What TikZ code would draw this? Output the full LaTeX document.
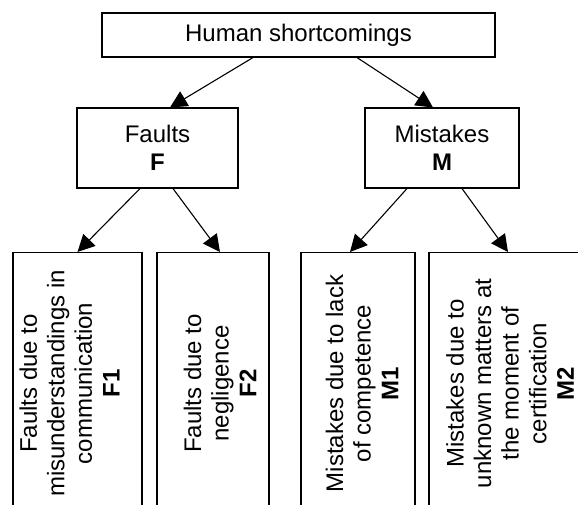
\documentclass[tikz,border=0pt]{standalone}
\usepackage{fontspec}
\setmainfont{Liberation Sans}
\usetikzlibrary{arrows.meta}
\begin{document}
\begin{tikzpicture}[x=1pt,y=-1pt,>={Triangle[length=17pt,width=17pt]},
	box/.style={draw,line width=1.1pt,align=center,inner sep=0pt,
		font=\fontsize{24}{27.6}\selectfont},
	leaf/.style={draw,line width=1.1pt,rotate=90,anchor=east,minimum width=262},
	leaftext/.style={rotate=90,align=center,inner sep=0pt,
		font=\fontsize{24}{27.6}\selectfont}]
\useasboundingbox (0,0) rectangle (578,504);
\clip (0,0) rectangle (578,504);
\node[box,minimum width=393,minimum height=44] (hum) at (298.5,35) {Human shortcomings};
\node[box,minimum width=161,minimum height=80] (flt) at (157.5,148) {Faults\\\textbf{F}};
\node[box,minimum width=154,minimum height=80] (mst) at (442,148) {Mistakes\\\textbf{M}};
% bottom row: empty boxes, text set apart
\node[leaf,minimum height=129] (f1) at (77.5,252) {};
\node[leaf,minimum height=112] (f2) at (213,252) {};
\node[leaf,minimum height=114] (m1) at (358,252) {};
\node[leaf,minimum height=158] (m2) at (508,252) {};
\node[leaftext] (f1t) at ([xshift=-8pt]f1.center)
	{Faults due to\\misunderstandings in\\communication\\\textbf{F1}};
\node[leaftext] (f2t) at ([xshift=7pt]f2.center)
	{Faults due to\\negligence\\\textbf{F2}};
\node[leaftext] (m1t) at ([xshift=4pt]m1.center)
	{Mistakes due to lack\\of competence\\\textbf{M1}};
\node[leaftext] (m2t) at ([xshift=2pt]m2.center)
	{Mistakes due to\\unknown matters at\\the moment of\\certification\\\textbf{M2}};
\draw[->,line width=1.1pt] ([xshift=-45.5pt]hum.south) -- ([xshift=12.5pt]flt.north);
\draw[->,line width=1.1pt] ([xshift=58.5pt]hum.south) -- ([xshift=-9pt]mst.north);
\draw[->,line width=1.1pt] ([xshift=-17.5pt]flt.south) -- (f1.east);
\draw[->,line width=1.1pt] ([xshift=15.5pt]flt.south) -- ([xshift=7pt]f2.east);
\draw[->,line width=1.1pt] ([xshift=-35pt]mst.south) -- ([xshift=-8pt]m1.east);
\draw[->,line width=1.1pt] ([xshift=20pt]mst.south) -- (m2.east);
\end{tikzpicture}
\end{document}
